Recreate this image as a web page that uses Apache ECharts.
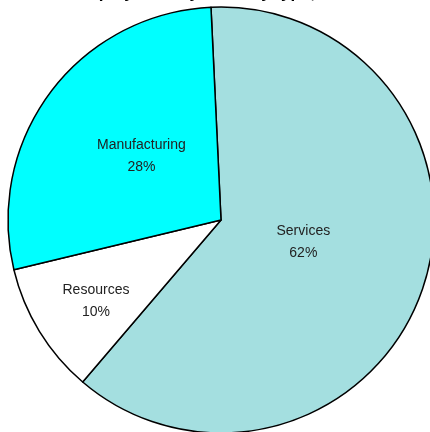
<!DOCTYPE html>
<html>
<head>
<meta charset="utf-8">
<script src="https://cdn.jsdelivr.net/npm/echarts@6/dist/echarts.min.js"></script>
<style>
  html, body { margin: 0; padding: 0; background: #fff; }
  #chart { width: 430px; height: 432px; }
</style>
</head>
<body>
<div id="chart"></div>
<script>
// Chart data
const categories = ['Services', 'Resources', 'Manufacturing']
const shares = [62, 10, 28]
const sliceColors = ['#a4dfe0', '#ffffff', '#00ffff']
// label placement: part of the radius, and a small turn off the mid angle (deg)
const labelDist = [0.4, 0.7, 0.48]
const labelTurn = [4, 1.5, -2]

const centerX = 221
const centerY = 220
const radius = 213
const startAngle = 92.7

const chart = echarts.init(document.getElementById('chart'))

const total = shares.reduce((a, b) => a + b, 0)
const midAngles = []
let acc = startAngle
shares.forEach(v => {
  const span = v / total * 360
  midAngles.push(acc - span / 2)
  acc -= span
})

const option = {
  animation: false,
  title: {
    text: 'Employment by Industry type, 2006',
    left: 'center',
    top: -20,
    textStyle: {
      fontFamily: 'Liberation Sans',
      fontSize: 17,
      fontWeight: 'bold',
      color: '#000',
    },
  },
  series: [
    {
      type: 'pie',
      center: [centerX, centerY],
      radius: radius,
      startAngle: startAngle,
      clockwise: true,
      data: categories.map((name, i) => ({
        name,
        value: shares[i],
        itemStyle: { color: sliceColors[i] },
      })),
      itemStyle: {
        borderColor: '#000',
        borderWidth: 1.5,
      },
      label: {
        position: 'inside',
        formatter: p => p.name + '\n' + p.value + '%',
        fontFamily: 'Liberation Sans',
        fontSize: 14,
        lineHeight: 22,
        color: '#222',
        align: 'center',
      },
      labelLine: { show: false },
      labelLayout: params => {
        const i = params.dataIndex
        const a = (midAngles[i] + labelTurn[i]) * Math.PI / 180
        const d = labelDist[i] * radius
        return {
          x: centerX + d * Math.cos(a),
          y: centerY - d * Math.sin(a),
          align: 'center',
          verticalAlign: 'middle',
        }
      },
      emphasis: { disabled: true },
    },
  ],
}
chart.setOption(option)
</script>
</body>
</html>
